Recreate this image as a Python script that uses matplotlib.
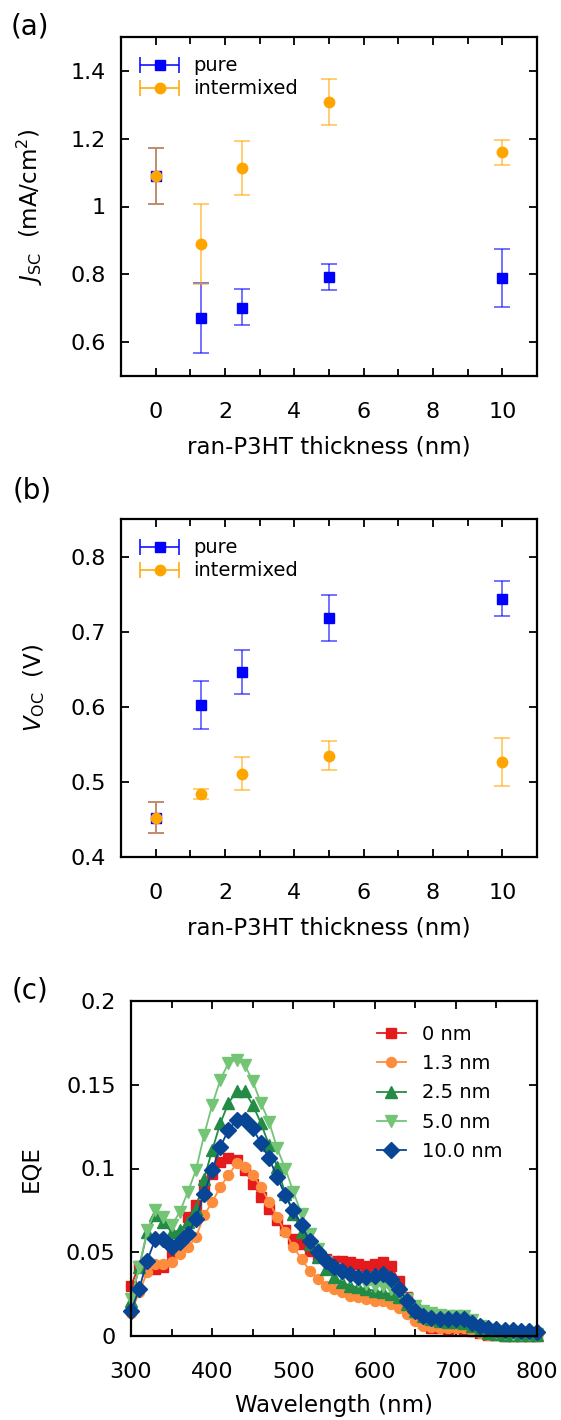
import matplotlib
matplotlib.use('Agg')
import matplotlib.pyplot as plt
from matplotlib.ticker import MultipleLocator
from matplotlib.legend_handler import HandlerErrorbar
import numpy as np

plt.rcParams['font.family'] = ['DejaVu Sans']
plt.rcParams['font.size'] = 16
plt.rcParams['mathtext.fontset'] = 'dejavusans'

# ---- panel (a) / (b) data ----
thickness = [0, 1.3, 2.5, 5, 10]

jsc_pure = [1.090, 0.671, 0.702, 0.792, 0.788]
jsc_pure_lo = [1.007, 0.567, 0.649, 0.753, 0.703]
jsc_pure_hi = [1.174, 0.774, 0.756, 0.830, 0.874]
jsc_mix = [1.090, 0.889, 1.114, 1.308, 1.161]
jsc_mix_lo = [1.007, 0.772, 1.034, 1.239, 1.123]
jsc_mix_hi = [1.174, 1.006, 1.193, 1.377, 1.197]

voc_pure = [0.452, 0.602, 0.646, 0.718, 0.744]
voc_pure_lo = [0.432, 0.570, 0.617, 0.688, 0.721]
voc_pure_hi = [0.473, 0.634, 0.675, 0.749, 0.768]
voc_mix = [0.452, 0.484, 0.511, 0.535, 0.527]
voc_mix_lo = [0.432, 0.477, 0.489, 0.516, 0.495]
voc_mix_hi = [0.473, 0.490, 0.533, 0.554, 0.559]

# ---- panel (c) data ----
wavelength = list(range(300, 801, 10))
eqe_0 = [.030, .042, .043, .040, .041, .050, .060, .071, .078, .090,
         .097, .104, .106, .105, .099, .091, .083, .076, .069, .063,
         .058, .055, .051, .048, .046, .045, .045, .044, .043, .042,
         .043, .044, .042, .033, .023, .016, .008, .005, .0045, .004,
         .0045, .004, .003, .0015, .0005, .0003, .0002, .0002, .0001, .0001,
         .0001]
eqe_13 = [.014, .026, .038, .043, .043, .044, .049, .053, .059, .072,
          .080, .089, .096, .103, .101, .096, .089, .080, .071, .062,
          .053, .046, .039, .034, .030, .028, .026, .024, .023, .022,
          .021, .021, .019, .017, .013, .009, .006, .0055, .005, .005,
          .005, .0045, .003, .0015, .0005, .0003, .0002, .0002, .0001, .0001,
          .0001]
eqe_25 = [.021, .041, .062, .072, .068, .062, .063, .068, .076, .094,
          .111, .127, .139, .146, .146, .138, .127, .114, .101, .085,
          .073, .062, .055, .047, .040, .035, .032, .030, .029, .028,
          .027, .026, .025, .023, .019, .015, .012, .010, .009, .0085,
          .0085, .008, .006, .0035, .002, .001, .0005, .0005, .0004, .0004,
          .0004]
eqe_50 = [.022, .041, .063, .075, .071, .066, .074, .086, .099, .120,
          .138, .153, .163, .165, .162, .152, .139, .128, .112, .100,
          .086, .073, .061, .052, .044, .040, .037, .035, .033, .031,
          .030, .030, .028, .026, .022, .018, .015, .0135, .0125, .012,
          .012, .012, .0095, .006, .0035, .0025, .0015, .001, .001, .001,
          .001]
eqe_100 = [.015, .028, .045, .058, .058, .053, .056, .061, .070, .085,
           .099, .113, .123, .129, .129, .124, .115, .106, .095, .084,
           .075, .066, .057, .050, .045, .041, .039, .037, .035, .035,
           .036, .037, .034, .028, .021, .015, .012, .011, .010, .010,
           .010, .010, .008, .006, .0045, .004, .0035, .0035, .003, .003,
           .0025]

eqe_series = [eqe_0, eqe_13, eqe_25, eqe_50, eqe_100]
eqe_labels = ['0 nm', '1.3 nm', '2.5 nm', '5.0 nm', '10.0 nm']
eqe_colors = ['#e41a1c', '#fd8d3c', '#238b45', '#74c476', '#084594']
eqe_markers = ['s', 'o', '^', 'v', 'D']

fig = plt.figure(figsize=(5.61, 14.2), dpi=100)
W, H = 561.0, 1420.0


def add_axes(left, top, right, bottom):
    return fig.add_axes([left / W, 1 - bottom / H, (right - left) / W, (bottom - top) / H])


def style_axes(ax):
    for s in ax.spines.values():
        s.set_linewidth(1.6)
    ax.tick_params(which='both', direction='in', top=True, right=True, width=1.3)
    ax.tick_params(which='major', length=6)
    ax.tick_params(which='minor', length=5)
    ax.tick_params(axis='y', pad=11)
    ax.tick_params(axis='x', pad=18.5)


def errpanel(ax, pure, plo, phi, mix, mlo, mhi):
    pe = [np.array(pure) - np.array(plo), np.array(phi) - np.array(pure)]
    me = [np.array(mix) - np.array(mlo), np.array(mhi) - np.array(mix)]
    eb1 = ax.errorbar(thickness, pure, yerr=pe, fmt='s', color='blue', ms=7.5,
                      capsize=5.8, elinewidth=1.1, capthick=1.1, zorder=3)
    eb2 = ax.errorbar(thickness, mix, yerr=me, fmt='o', color='orange', ms=7.5,
                      capsize=5.8, elinewidth=1.1, capthick=1.1, zorder=4)
    for eb in (eb1, eb2):
        for c in eb[1]:
            c.set_alpha(0.7)
        for c in eb[2]:
            c.set_alpha(0.7)
    # legend proxies drawn with horizontal bars
    p1 = ax.errorbar([np.nan], [np.nan], xerr=[1], fmt='s', color='blue', ms=7.5,
                     capsize=5.8, elinewidth=1.1, capthick=1.1)
    p2 = ax.errorbar([np.nan], [np.nan], xerr=[1], fmt='o', color='orange', ms=7.5,
                     capsize=5.8, elinewidth=1.1, capthick=1.1)
    h = HandlerErrorbar(xerr_size=1.0)
    ax.legend([p1, p2], ['pure', 'intermixed'], loc='upper left', frameon=False,
              fontsize=14, handlelength=2.0, handletextpad=0.7, labelspacing=0.2,
              borderaxespad=0.6, handler_map={p1: h, p2: h})
    ax.set_xlim(-1, 11)
    ax.set_xticks([0, 2, 4, 6, 8, 10])
    ax.xaxis.set_minor_locator(MultipleLocator(1))
    ax.set_xlabel('ran-P3HT thickness (nm)', fontsize=16.5, labelpad=10)


# (a)
ax1 = add_axes(121, 37, 537, 376)
errpanel(ax1, jsc_pure, jsc_pure_lo, jsc_pure_hi, jsc_mix, jsc_mix_lo, jsc_mix_hi)
ax1.set_ylim(0.5, 1.5)
ax1.set_yticks([0.6, 0.8, 1.0, 1.2, 1.4])
ax1.set_yticklabels(['0.6', '0.8', '1', '1.2', '1.4'])
ax1.set_ylabel(r'$J_{\mathrm{SC}}$  (mA/cm$^2$)', fontsize=16.5)
ax1.yaxis.set_label_coords(-0.183, 0.5)
style_axes(ax1)

# (b)
ax2 = add_axes(121, 519, 537, 857)
errpanel(ax2, voc_pure, voc_pure_lo, voc_pure_hi, voc_mix, voc_mix_lo, voc_mix_hi)
ax2.set_ylim(0.4, 0.85)
ax2.set_yticks([0.4, 0.5, 0.6, 0.7, 0.8])
ax2.set_ylabel(r'$V_{\mathrm{OC}}$  (V)', fontsize=16.5)
ax2.yaxis.set_label_coords(-0.178, 0.5)
style_axes(ax2)

# (c)
ax3 = add_axes(131, 1001, 537, 1336)
for ys, lab, col, mk in zip(eqe_series, eqe_labels, eqe_colors, eqe_markers):
    ms = 7.2 if mk in ('s', 'o') else 8.6
    ax3.plot(wavelength, ys, marker=mk, color=col, ms=ms, lw=1.3, label=lab,
             clip_on=False)
ax3.set_xlim(300, 800)
ax3.set_ylim(0, 0.2)
ax3.set_xticks([300, 400, 500, 600, 700, 800])
ax3.xaxis.set_minor_locator(MultipleLocator(50))
ax3.set_yticks([0, 0.05, 0.1, 0.15, 0.2])
ax3.set_yticklabels(['0', '0.05', '0.1', '0.15', '0.2'])
ax3.set_xlabel('Wavelength (nm)', fontsize=16.5, labelpad=9)
ax3.set_ylabel('EQE', fontsize=16.5)
ax3.yaxis.set_label_coords(-0.219, 0.5)
ax3.legend(loc='upper right', bbox_to_anchor=(0.933, 0.952), frameon=False,
           fontsize=14, handlelength=1.5, handletextpad=0.8, labelspacing=0.53,
           borderaxespad=0)
style_axes(ax3)

fig.text(30 / W, 1 - 27 / H, '(a)', fontsize=20, ha='center', va='center')
fig.text(32 / W, 1 - 490 / H, '(b)', fontsize=20, ha='center', va='center')
fig.text(30 / W, 1 - 990 / H, '(c)', fontsize=20, ha='center', va='center')

fig.savefig('out.png', dpi=100)
